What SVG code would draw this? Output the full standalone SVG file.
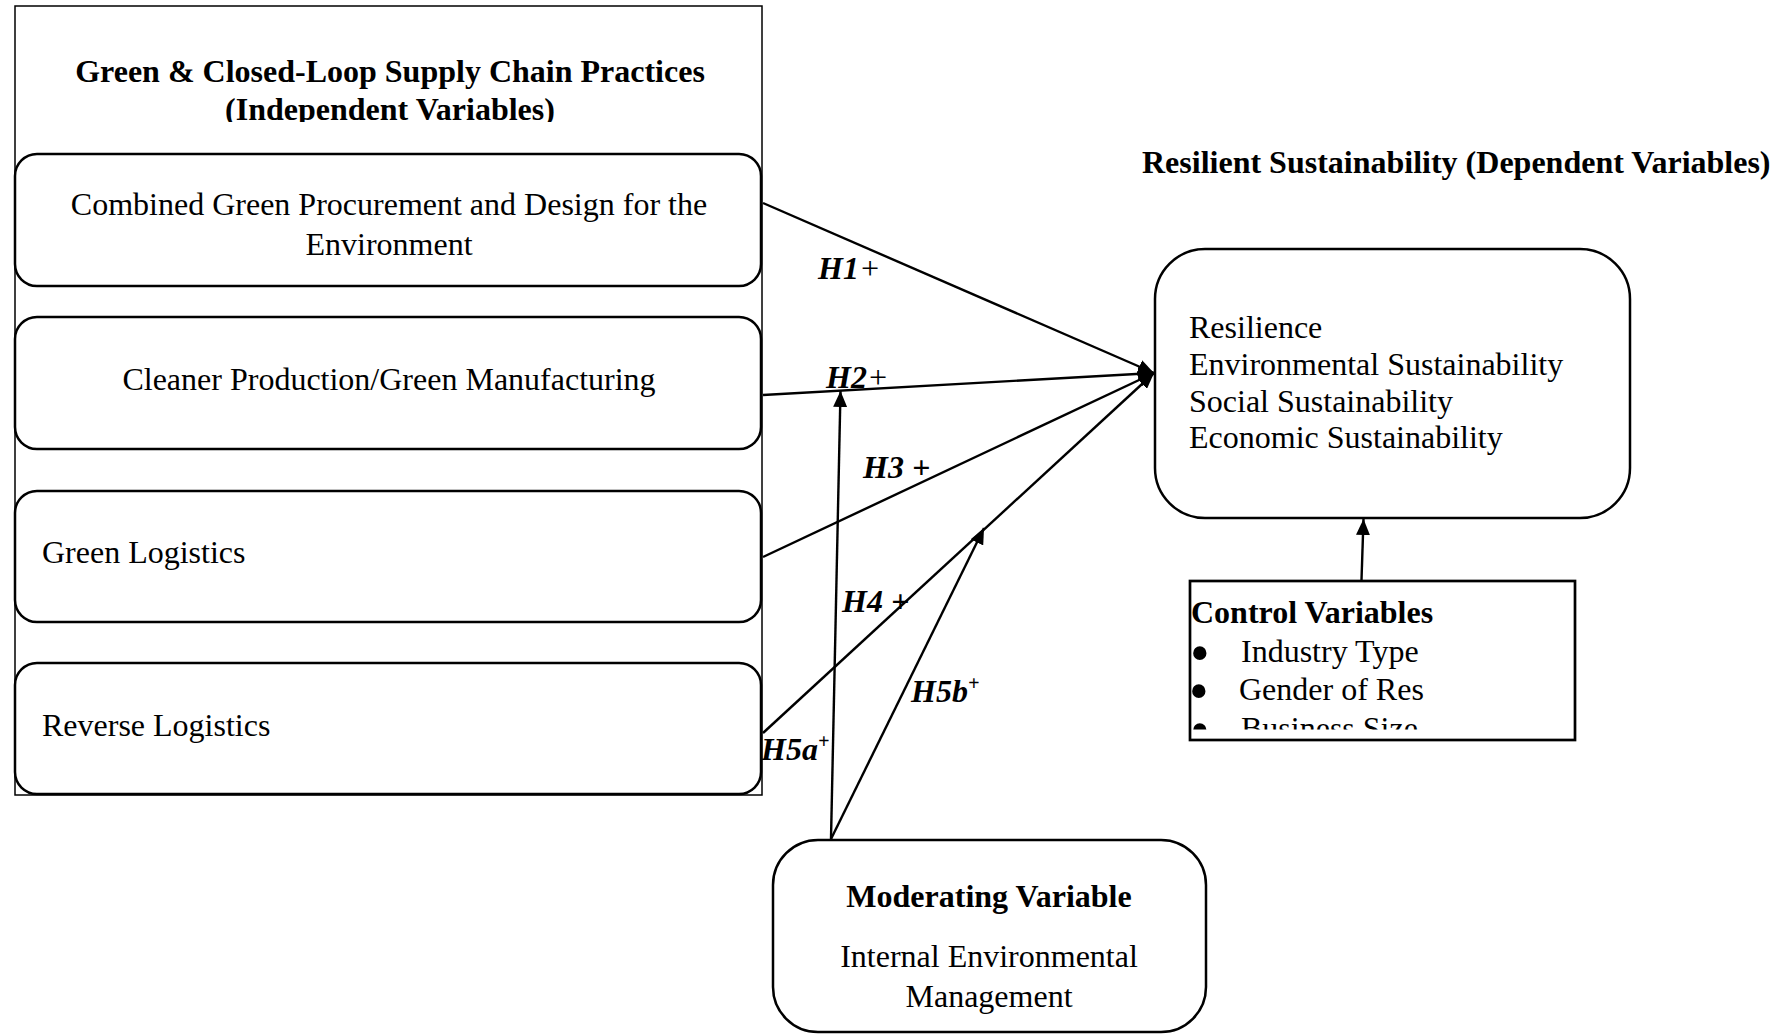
<svg xmlns="http://www.w3.org/2000/svg" width="1784" height="1034" viewBox="0 0 1784 1034">
  <style>
    text { font-family: "Liberation Serif", "Times New Roman", serif; font-size: 32px; fill: #000; }
    .b { font-weight: bold; }
    .h { font-weight: bold; font-style: italic; }
    .pn { font-weight: normal; }
    .sup { font-size: 20px; }
    .mid { text-anchor: middle; }
    .bullet { font-size: 56px; }
    .node { fill: #fff; stroke: #000; stroke-width: 2.5; }
    .frame { fill: none; stroke: #000; stroke-width: 1.5; }
    .edge { fill: none; stroke: #000; stroke-width: 2.4; marker-end: url(#arrow); }
  </style>
  <defs>
    <marker id="arrow" viewBox="0 0 16 14" markerWidth="16" markerHeight="14" refX="16" refY="7" orient="auto" markerUnits="userSpaceOnUse">
      <path d="M0,0 L16,7 L0,14 z" fill="#000"/>
    </marker>
    <clipPath id="titleClip"><rect x="0" y="0" width="780" height="122"/></clipPath>
    <clipPath id="ctrlClip"><rect x="1180" y="580" width="400" height="149.5"/></clipPath>
  </defs>

  <rect width="1784" height="1034" fill="#fff"/>

  <!-- Independent variables panel -->
  <g id="independent-panel">
    <rect class="frame" x="15" y="6" width="747" height="789"/>
    <g clip-path="url(#titleClip)">
      <text class="b mid" x="390" y="82">Green &amp; Closed-Loop Supply Chain Practices</text>
      <text class="b mid" x="390" y="120">(Independent Variables)</text>
    </g>
  </g>

  <g id="green-procurement">
    <rect class="node" x="15" y="154" width="746" height="132" rx="22" ry="22"/>
    <text class="mid" x="389" y="215">Combined Green Procurement and Design for the</text>
    <text class="mid" x="389" y="255">Environment</text>
  </g>

  <g id="cleaner-production">
    <rect class="node" x="15" y="317" width="746" height="132" rx="22" ry="22"/>
    <text class="mid" x="389" y="390">Cleaner Production/Green Manufacturing</text>
  </g>

  <g id="green-logistics">
    <rect class="node" x="15" y="491" width="746" height="131" rx="22" ry="22"/>
    <text x="42" y="563">Green Logistics</text>
  </g>

  <g id="reverse-logistics">
    <rect class="node" x="15" y="663" width="746" height="131" rx="22" ry="22"/>
    <text x="42" y="736">Reverse Logistics</text>
  </g>

  <!-- Dependent variables -->
  <g id="resilient-sustainability">
    <text class="b" x="1142" y="173">Resilient Sustainability (Dependent Variables)</text>
    <rect class="node" x="1155" y="249" width="475" height="269" rx="50" ry="50"/>
    <text x="1189" y="338">Resilience</text>
    <text x="1189" y="375">Environmental Sustainability</text>
    <text x="1189" y="412">Social Sustainability</text>
    <text x="1189" y="448">Economic Sustainability</text>
  </g>

  <!-- Control variables -->
  <g id="control-variables">
    <rect x="1190" y="581" width="385" height="159" fill="#fff" stroke="#000" stroke-width="2.7"/>
    <g clip-path="url(#ctrlClip)">
      <text class="b" x="1191" y="623">Control Variables</text>
      <text class="bullet" x="1190" y="672">•</text>
      <text x="1241" y="662">Industry Type</text>
      <text class="bullet" x="1189" y="710">•</text>
      <text x="1239" y="700">Gender of Res</text>
      <text class="bullet" x="1190" y="749">•</text>
      <text x="1241" y="739">Business Size</text>
    </g>
  </g>

  <!-- Moderating variable -->
  <g id="moderating-variable">
    <rect class="node" x="773" y="840" width="433" height="192" rx="45" ry="45"/>
    <text class="b mid" x="989" y="907">Moderating Variable</text>
    <text class="mid" x="989" y="967">Internal Environmental</text>
    <text class="mid" x="989" y="1007">Management</text>
  </g>

  <!-- Hypothesised paths -->
  <g id="connectors">
    <path class="edge" d="M763,203 L1154,373"/>
    <path class="edge" d="M763,395 L1154,373"/>
    <path class="edge" d="M763,557 L1154,373"/>
    <path class="edge" d="M763,733 L1154,373"/>
    <path class="edge" d="M831,839 L840.5,391"/>
    <path class="edge" d="M831,839 L984,528"/>
    <path class="edge" d="M1361.5,580 L1363.5,519"/>
  </g>

  <g id="path-labels">
    <text class="h" x="818" y="279">H1<tspan class="pn">+</tspan></text>
    <text class="h" x="826" y="388">H2<tspan class="pn">+</tspan></text>
    <text class="h" x="863" y="478">H3 +</text>
    <text class="h" x="842" y="612">H4 +</text>
    <text class="h" x="911" y="702">H5b<tspan class="sup" dy="-12">+</tspan></text>
    <text class="h" x="761" y="760">H5a<tspan class="sup" dy="-12">+</tspan></text>
  </g>
</svg>
